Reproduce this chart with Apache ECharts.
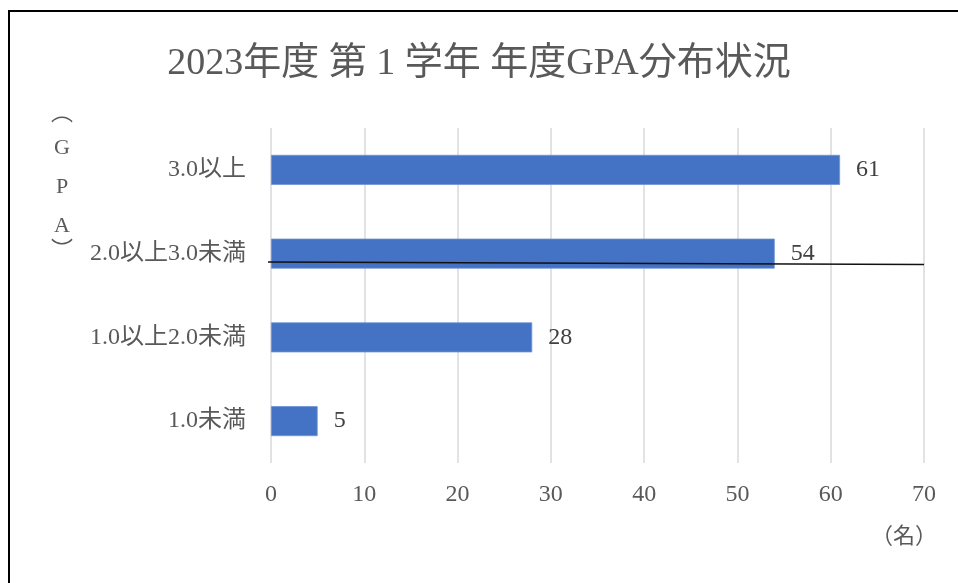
<!DOCTYPE html>
<html><head><meta charset="utf-8">
<script src="https://cdn.jsdelivr.net/npm/echarts@6/dist/echarts.min.js"></script>
<style>html,body{margin:0;padding:0;background:#fff}#c{width:958px;height:583px}</style>
</head><body><div id="c"></div>
<script>
const titleText = '2023年度 第 1 学年 年度GPA分布状況';
const categories = ['1.0未満', '1.0以上2.0未満', '2.0以上3.0未満', '3.0以上'];
const counts = [5, 28, 54, 61];
const xTicks = {min: 0, max: 70, interval: 10};
const yNameChars = ['︵', 'G', 'P', 'A', '︶'];
const xName = '（名）';

const FONT = '"Liberation Serif", "DejaVu Serif", "Noto Sans CJK JP", serif';
const yNameY = [114, 148, 187, 226, 251];
const chart = echarts.init(document.getElementById('c'), null, {renderer: 'canvas'});
const graphics = [
  {type: 'polyline', z: 100, shape: {points: [[9, 583], [9, 11], [958, 11]]}, style: {stroke: '#000', lineWidth: 2, fill: null}, silent: true},
  {type: 'text', z: 100, x: 904, y: 537, style: {text: xName, font: '22px ' + FONT, fill: '#595959', align: 'center', verticalAlign: 'middle'}},
  {type: 'line', z: 100, shape: {x1: 268, y1: 262, x2: 924, y2: 264.5}, style: {stroke: '#111', lineWidth: 1.3}, silent: true}
];
yNameChars.forEach((ch, i) => graphics.push({
  type: 'text', z: 100, x: 62, y: yNameY[i],
  style: {text: ch, font: '22px ' + FONT, fill: '#595959', align: 'center', verticalAlign: 'middle'}
}));
chart.setOption({
  backgroundColor: '#fff',
  animation: false,
  title: {
    text: titleText, left: 'center', top: 40,
    textStyle: {fontFamily: FONT, fontSize: 38, fontWeight: 'normal', color: '#595959'}
  },
  grid: {left: 271, right: 34, top: 128, bottom: 120},
  xAxis: {
    type: 'value', min: xTicks.min, max: xTicks.max, interval: xTicks.interval,
    axisLine: {show: false}, axisTick: {show: false},
    axisLabel: {fontFamily: FONT, fontSize: 24, color: '#595959', margin: 20},
    splitLine: {lineStyle: {color: '#d9d9d9', width: 1.5}}
  },
  yAxis: {
    type: 'category', data: categories,
    axisLine: {show: false}, axisTick: {show: false},
    axisLabel: {fontFamily: FONT, fontSize: 24, color: '#595959', margin: 25}
  },
  series: [{
    type: 'bar', data: counts, barWidth: 30,
    itemStyle: {color: '#4472C4', borderColor: '#6e93d6', borderWidth: 0.8},
    label: {show: true, position: 'right', distance: 16, fontFamily: FONT, fontSize: 24, color: '#404040', padding: [3, 0, 0, 0]}
  }],
  graphic: graphics
});
</script></body></html>
